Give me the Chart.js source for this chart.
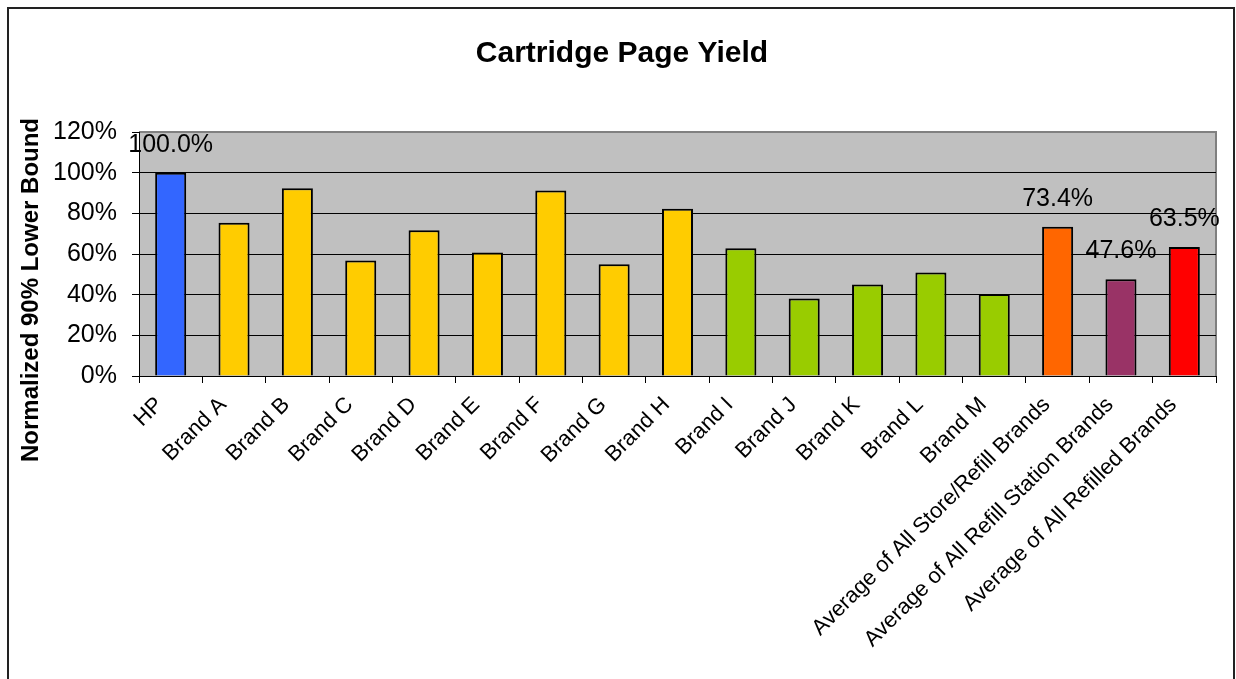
<!DOCTYPE html>
<html>
<head>
<meta charset="utf-8">
<title>Cartridge Page Yield</title>
<script src="https://cdn.jsdelivr.net/npm/chart.js@4.4.0/dist/chart.umd.min.js"></script>
<style>
  html, body { margin: 0; padding: 0; background: #fff; overflow: hidden; }
  #wrap { position: relative; width: 1236px; height: 679px; }
  #frame {
    position: absolute; left: 7px; top: 7px; width: 1224px; height: 720px;
    border: 2px solid #222; pointer-events: none;
  }
</style>
</head>
<body>
<div id="wrap">
  <canvas id="chartYield" width="1236" height="679"></canvas>
  <div id="frame"></div>
</div>
<script>
// ===== DATA =====
const categories = [
  'HP', 'Brand A', 'Brand B', 'Brand C', 'Brand D', 'Brand E', 'Brand F',
  'Brand G', 'Brand H', 'Brand I', 'Brand J', 'Brand K', 'Brand L', 'Brand M',
  'Average of All Store/Refill Brands',
  'Average of All Refill Station Brands',
  'Average of All Refilled Brands'
];

// normalized 90% lower bound, in percent
const yieldValues = [
  100.0, 75.4, 92.3, 56.8, 71.7, 60.7, 91.2,
  55.0, 82.3, 62.8, 38.1, 45.0, 50.9, 40.3,
  73.4, 47.6, 63.5
];

// only a few bars carry a value label
const valueLabels = [
  '100.0%', null, null, null, null, null, null,
  null, null, null, null, null, null, null,
  '73.4%', '47.6%', '63.5%'
];

const barColors = [
  '#3366FF',
  '#FFCC00', '#FFCC00', '#FFCC00', '#FFCC00', '#FFCC00', '#FFCC00', '#FFCC00', '#FFCC00',
  '#99CC00', '#99CC00', '#99CC00', '#99CC00', '#99CC00',
  '#FF6600', '#993366', '#FF0000'
];

const yTicks = [0, 20, 40, 60, 80, 100, 120];
const chartTitle = 'Cartridge Page Yield';
const yAxisTitle = 'Normalized 90% Lower Bound';

// =====================================================
const FONT = "'Liberation Sans', Arial, sans-serif";

/* ---- gray plot background, titles, value labels ---- */
const excelLook = {
  id: 'excelLook',
  beforeDraw(chart) {
    const { ctx, chartArea: a } = chart;
    ctx.save();
    ctx.fillStyle = '#C0C0C0';
    ctx.fillRect(a.left, a.top, a.right - a.left, a.bottom - a.top);
    ctx.strokeStyle = '#808080';
    ctx.lineWidth = 2;
    ctx.beginPath();
    ctx.moveTo(a.left, a.top);
    ctx.lineTo(a.right, a.top);
    ctx.lineTo(a.right, a.bottom);
    ctx.stroke();
    ctx.restore();
  },
  afterDatasetsDraw(chart) {
    const { ctx } = chart;
    const meta = chart.getDatasetMeta(0);
    ctx.save();
    ctx.font = '25px ' + FONT;
    ctx.fillStyle = '#000';
    ctx.textAlign = 'center';
    ctx.textBaseline = 'middle';
    meta.data.forEach((bar, i) => {
      if (!valueLabels[i]) return;
      ctx.fillText(valueLabels[i], bar.x, bar.y - 28);
    });
    ctx.restore();
  },
  afterDraw(chart) {
    const { ctx } = chart;
    ctx.save();
    ctx.fillStyle = '#000';

    // chart title
    ctx.font = 'bold 30px ' + FONT;
    ctx.textAlign = 'center';
    ctx.textBaseline = 'alphabetic';
    ctx.fillText(chartTitle, 622, 62);

    // y axis title
    ctx.translate(31, 290);
    ctx.rotate(-Math.PI / 2);
    ctx.font = 'bold 24px ' + FONT;
    ctx.textBaseline = 'middle';
    ctx.fillText(yAxisTitle, 0, 0);
    ctx.restore();
  }
};

const ctx = document.getElementById('chartYield').getContext('2d');

new Chart(ctx, {
  type: 'bar',
  data: {
    labels: categories,
    datasets: [{
      data: yieldValues,
      backgroundColor: barColors,
      borderColor: '#000',
      borderWidth: 2,
      categoryPercentage: 1,
      barPercentage: 0.49
    }]
  },
  options: {
    responsive: false,
    animation: false,
    events: [],
    layout: { padding: { left: 0, right: 20, top: 132, bottom: 0 } },
    plugins: {
      legend: { display: false },
      tooltip: { enabled: false },
      title: { display: false }
    },
    scales: {
      x: {
        afterFit: s => { s.height = 303; },
        grid: {
          drawOnChartArea: false,
          drawTicks: true,
          tickLength: 7,
          tickColor: '#000',
          offset: true
        },
        border: { color: '#000', width: 1 },
        ticks: {
          autoSkip: false,
          maxRotation: 45,
          minRotation: 45,
          padding: 9,
          labelOffset: -11,
          color: '#000',
          font: { family: FONT, size: 22 }
        }
      },
      y: {
        min: 0,
        max: 120,
        afterFit: s => { s.width = 139; },
        afterBuildTicks: s => { s.ticks = yTicks.map(v => ({ value: v })); },
        grid: {
          color: c => (c.tick && c.tick.value === 120) ? 'rgba(0,0,0,0)' : '#000',
          tickColor: '#000',
          tickLength: 7,
          lineWidth: 1
        },
        border: { color: '#000', width: 1 },
        ticks: {
          padding: 15,
          color: '#000',
          font: { family: FONT, size: 25 },
          callback: v => v + '%'
        }
      }
    }
  },
  plugins: [excelLook]
});
</script>
</body>
</html>
